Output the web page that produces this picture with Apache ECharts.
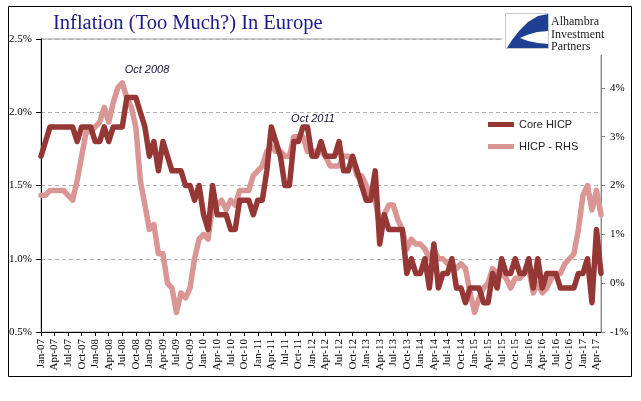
<!DOCTYPE html>
<html>
<head>
<meta charset="utf-8">
<script src="https://cdn.jsdelivr.net/npm/echarts@6/dist/echarts.min.js"></script>
<style>
html,body{margin:0;padding:0;background:#fff;}
#chart{width:641px;height:401px;}
</style>
</head>
<body>
<div id="chart"></div>
<script>
// ---- data ----
const monthNames = ['Jan','Feb','Mar','Apr','May','Jun','Jul','Aug','Sep','Oct','Nov','Dec'];
const yearLabels = ['07','08','09','10','11','12','13','14','15','16','17'];
const lastYearMonths = 5; // Jan-17 .. May-17

const categories = [];
yearLabels.forEach(function (yy, yi) {
  const n = (yi === yearLabels.length - 1) ? lastYearMonths : 12;
  for (let m = 0; m < n; m++) categories.push(monthNames[m] + '-' + yy);
});

// Core HICP (left axis, %)
const coreHicp = [
  1.7, 1.8, 1.9, 1.9, 1.9, 1.9, 1.9, 1.9, 1.8, 1.9, 1.9, 1.9,
  1.8, 1.8, 1.9, 1.8, 1.9, 1.9, 1.9, 2.1, 2.1, 2.1, 2.0, 1.9,
  1.7, 1.8, 1.6, 1.8, 1.7, 1.6, 1.6, 1.6, 1.5, 1.5, 1.4, 1.5,
  1.3, 1.2, 1.5, 1.3, 1.3, 1.3, 1.2, 1.2, 1.4, 1.4, 1.4, 1.3,
  1.4, 1.4, 1.6, 1.9, 1.8, 1.7, 1.5, 1.5, 1.8, 1.8, 1.9, 1.9,
  1.7, 1.7, 1.8, 1.7, 1.7, 1.7, 1.8, 1.6, 1.6, 1.7, 1.6, 1.5,
  1.4, 1.4, 1.6, 1.1, 1.3, 1.2, 1.2, 1.2, 1.2, 0.9, 1.0, 0.9,
  0.9, 1.0, 0.8, 1.1, 0.8, 0.9, 0.9, 1.0, 0.8, 0.8, 0.7, 0.8,
  0.8, 0.8, 0.7, 0.7, 0.9, 0.8, 1.0, 0.9, 0.9, 1.0, 0.9, 0.9,
  1.0, 0.8, 1.0, 0.8, 0.9, 0.9, 0.9, 0.8, 0.8, 0.8, 0.8, 0.9,
  0.9, 1.0, 0.7, 1.2, 0.9
];

// Headline HICP (right axis, %)
const hicpRhs = [
  1.8, 1.8, 1.9, 1.9, 1.9, 1.9, 1.8, 1.7, 2.1, 2.6, 3.1, 3.1,
  3.2, 3.3, 3.6, 3.3, 3.7, 4.0, 4.1, 3.8, 3.6, 3.2, 2.1, 1.6,
  1.1, 1.2, 0.6, 0.6, 0.0, -0.1, -0.6, -0.2, -0.3, -0.1, 0.5, 0.9,
  1.0, 0.9, 1.6, 1.6, 1.7, 1.5, 1.7, 1.6, 1.9, 1.9, 1.9, 2.2,
  2.3, 2.4, 2.7, 2.8, 2.7, 2.7, 2.6, 2.6, 3.0, 3.0, 3.0, 2.7,
  2.7, 2.7, 2.7, 2.6, 2.4, 2.4, 2.4, 2.6, 2.6, 2.5, 2.2, 2.2,
  2.0, 1.8, 1.7, 1.2, 1.4, 1.6, 1.6, 1.3, 1.1, 0.7, 0.9, 0.8,
  0.8, 0.7, 0.5, 0.7, 0.5, 0.5, 0.4, 0.4, 0.3, 0.4, 0.3, -0.2,
  -0.6, -0.3, -0.1, 0.0, 0.3, 0.2, 0.2, 0.1, -0.1, 0.1, 0.1, 0.2,
  0.3, -0.2, 0.0, -0.2, -0.1, 0.1, 0.2, 0.2, 0.4, 0.5, 0.6, 1.1,
  1.8, 2.0, 1.5, 1.9, 1.4
];

const seriesNames = ['Core HICP', 'HICP - RHS'];
const leftTicks = { min: 0.5, max: 2.5, interval: 0.5 };
const rightTicks = { min: -1, max: 5, interval: 1, hidden: 5 };
const titleText = 'Inflation (Too Much?) In Europe';
const annotations = ['Oct 2008', 'Oct 2011'];
const logoLines = ['Alhambra', 'Investment', 'Partners'];

// ---- chart ----
const chart = echarts.init(document.getElementById('chart'), null, { renderer: 'canvas' });

const serif = '"Liberation Serif", "Times New Roman", serif';
const sans = '"Liberation Sans", Arial, sans-serif';

const option = {
  animation: false,
  backgroundColor: '#ffffff',
  title: {
    text: titleText,
    left: 53,
    top: 13,
    padding: 0,
    textStyle: { fontFamily: serif, fontSize: 20.5, fontWeight: 'normal', color: '#1a1a8c' }
  },
  legend: {
    data: seriesNames,
    orient: 'vertical',
    left: 488,
    top: 119,
    padding: 0,
    icon: 'rect',
    itemWidth: 26,
    itemHeight: 5,
    itemGap: 11,
    textStyle: { fontFamily: sans, fontSize: 11, color: '#222' }
  },
  grid: {
    left: 41, right: 40, top: 39, bottom: 69,
    show: true, borderColor: '#999', borderWidth: 1,
    containLabel: false
  },
  xAxis: {
    type: 'category',
    data: categories,
    boundaryGap: false,
    axisLine: { onZero: false, lineStyle: { color: '#000', width: 1 } },
    axisTick: { interval: 2, length: 4, lineStyle: { color: '#000' } },
    axisLabel: {
      interval: 2, rotate: 90, margin: 7,
      fontFamily: serif, fontSize: 11, color: '#000'
    },
    splitLine: { show: false }
  },
  yAxis: [
    {
      type: 'value',
      min: leftTicks.min, max: leftTicks.max, interval: leftTicks.interval,
      position: 'left',
      axisLine: { show: true, onZero: false, lineStyle: { color: '#000', width: 1 } },
      axisTick: { show: true, length: 5, lineStyle: { color: '#000' } },
      axisLabel: {
        margin: 9, fontFamily: serif, fontSize: 11, color: '#000',
        formatter: function (v) { return v.toFixed(1) + '%'; }
      },
      splitLine: { show: true, lineStyle: { color: '#b0b0b0', type: [4, 3], width: 1 } }
    },
    {
      type: 'value',
      min: rightTicks.min, max: rightTicks.max, interval: rightTicks.interval,
      position: 'right',
      axisLine: { show: true, onZero: false, lineStyle: { color: '#888', width: 1 } },
      axisTick: { show: true, length: 4, lineStyle: { color: '#888' } },
      axisLabel: {
        margin: 9, fontFamily: serif, fontSize: 11, color: '#000',
        formatter: function (v) { return v === rightTicks.hidden ? '' : v + '%'; }
      },
      splitLine: { show: false }
    }
  ],
  series: [
    {
      name: seriesNames[1],
      type: 'line',
      yAxisIndex: 1,
      data: hicpRhs,
      symbol: 'none',
      color: '#d99694',
      lineStyle: { width: 5.5, color: '#d99694', join: 'round', cap: 'round' },
      z: 2
    },
    {
      name: seriesNames[0],
      type: 'line',
      yAxisIndex: 0,
      data: coreHicp,
      symbol: 'none',
      color: '#953735',
      lineStyle: { width: 5.5, color: '#953735', join: 'round', cap: 'round' },
      z: 3
    }
  ],
  graphic: [
    { type: 'rect', z: 50, silent: true,
      shape: { x: 8.5, y: 6.5, width: 623, height: 370 },
      style: { fill: 'none', stroke: '#000', lineWidth: 1 } },
    { type: 'rect', z: 60, silent: true,
      shape: { x: 502, y: 8, width: 122, height: 47 },
      style: { fill: '#fff', stroke: 'none' } },
    { type: 'rect', z: 61, silent: true,
      shape: { x: 505.5, y: 13.5, width: 43, height: 35 },
      style: { fill: '#fff', stroke: '#c8c8c8', lineWidth: 1 } },
    { type: 'polygon', z: 62, silent: true,
      shape: { points: [[548, 14], [538, 16], [528, 22], [519, 31], [512, 40], [507, 48], [548, 48]] },
      style: { fill: '#1f3f92' } },
    { type: 'polygon', z: 63, silent: true,
      shape: { points: [[548, 31], [537, 32], [527, 35], [520, 38], [528, 41], [538, 43], [548, 44]] },
      style: { fill: '#fff' } },
    { type: 'text', z: 64, silent: true,
      style: { x: 551, y: 22, text: logoLines[0], font: '12px ' + serif, fill: '#222', textVerticalAlign: 'middle' } },
    { type: 'text', z: 64, silent: true,
      style: { x: 551, y: 35, text: logoLines[1], font: '12px ' + serif, fill: '#222', textVerticalAlign: 'middle' } },
    { type: 'text', z: 64, silent: true,
      style: { x: 551, y: 47, text: logoLines[2], font: '12px ' + serif, fill: '#222', textVerticalAlign: 'middle' } },
    { type: 'text', z: 40, silent: true,
      style: { x: 147, y: 70, text: annotations[0], font: 'italic 11px ' + sans, fill: '#10103a', textAlign: 'center', textVerticalAlign: 'middle' } },
    { type: 'text', z: 40, silent: true,
      style: { x: 313, y: 119, text: annotations[1], font: 'italic 11px ' + sans, fill: '#10103a', textAlign: 'center', textVerticalAlign: 'middle' } }
  ]
};

chart.setOption(option);
</script>
</body>
</html>
